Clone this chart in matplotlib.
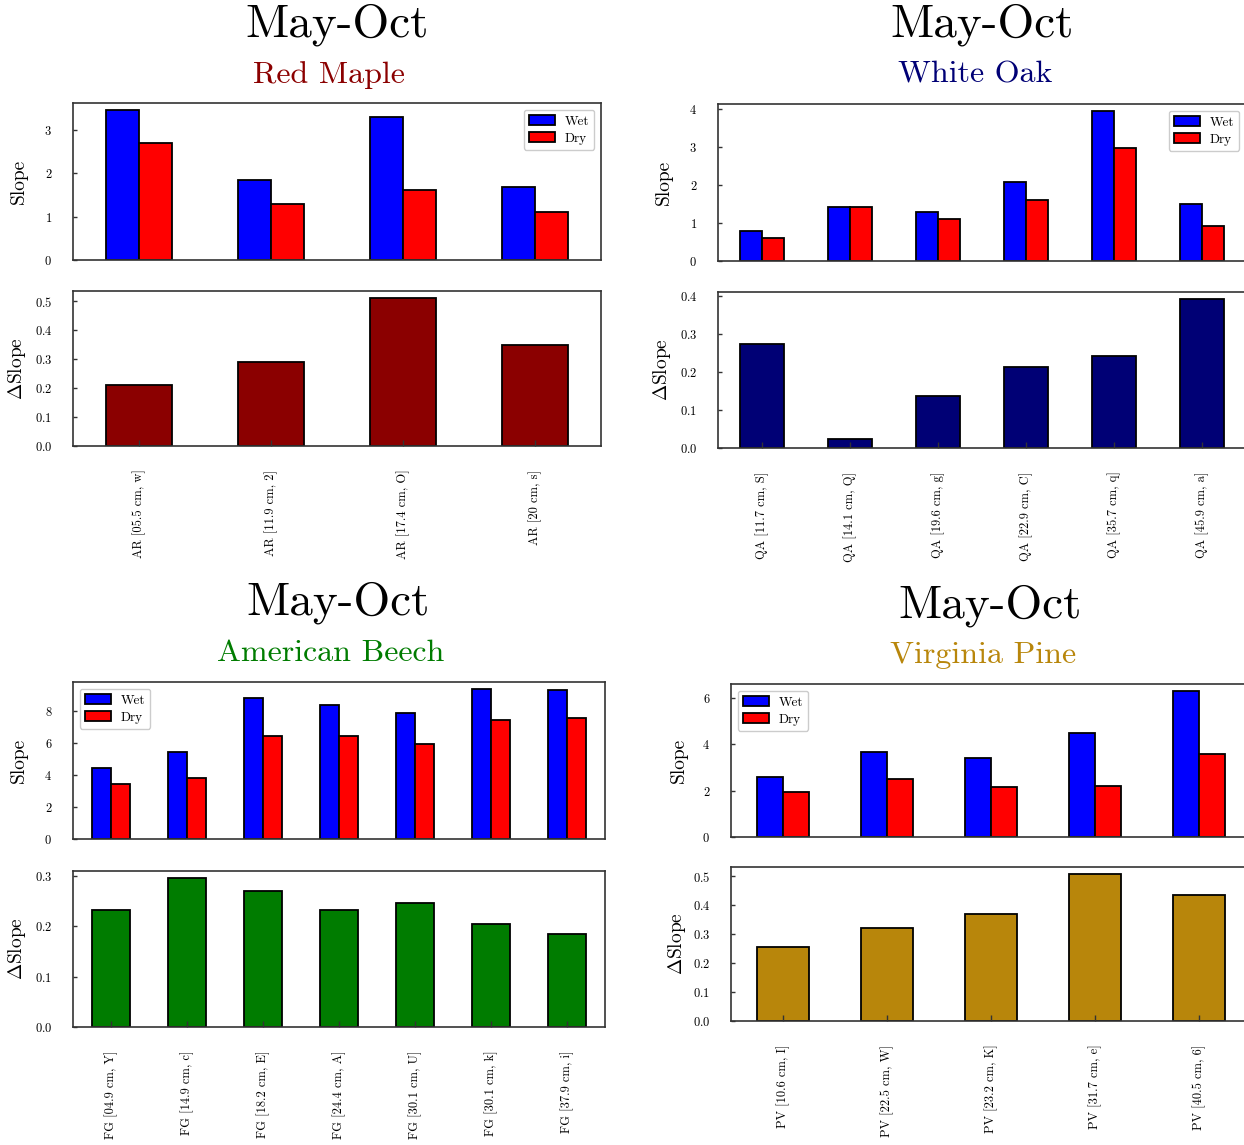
import matplotlib
matplotlib.use("Agg")
import matplotlib.pyplot as plt
import numpy as np
from matplotlib.ticker import MultipleLocator

plt.rcParams['font.family'] = 'cmr10'
plt.rcParams['mathtext.fontset'] = 'cm'
plt.rcParams['axes.formatter.use_mathtext'] = True

# Red Maple (AR)
maple_labels = ['AR [05.5 cm, w]', 'AR [11.9 cm, 2]', 'AR [17.4 cm, O]', 'AR [20 cm, s]']
maple_wet = [3.44, 1.85, 3.30, 1.68]
maple_dry = [2.70, 1.29, 1.62, 1.10]
maple_delta = [0.21, 0.29, 0.51, 0.35]

# White Oak (QA)
oak_labels = ['QA [11.7 cm, S]', 'QA [14.1 cm, Q]', 'QA [19.6 cm, g]',
              'QA [22.9 cm, C]', 'QA [35.7 cm, q]', 'QA [45.9 cm, a]']
oak_wet = [0.80, 1.43, 1.28, 2.07, 3.94, 1.49]
oak_dry = [0.60, 1.41, 1.11, 1.62, 2.99, 0.91]
oak_delta = [0.273, 0.023, 0.137, 0.213, 0.242, 0.391]

# American Beech (FG)
beech_labels = ['FG [04.9 cm, Y]', 'FG [14.9 cm, c]', 'FG [18.2 cm, E]', 'FG [24.4 cm, A]',
                'FG [30.1 cm, U]', 'FG [30.1 cm, k]', 'FG [37.9 cm, i]']
beech_wet = [4.47, 5.41, 8.79, 8.37, 7.85, 9.35, 9.31]
beech_dry = [3.42, 3.80, 6.41, 6.43, 5.93, 7.43, 7.58]
beech_delta = [0.232, 0.295, 0.270, 0.232, 0.247, 0.205, 0.185]

# Virginia Pine (PV)
pine_labels = ['PV [10.6 cm, I]', 'PV [22.5 cm, W]', 'PV [23.2 cm, K]',
               'PV [31.7 cm, e]', 'PV [40.5 cm, 6]']
pine_wet = [2.58, 3.67, 3.39, 4.49, 6.27]
pine_dry = [1.92, 2.48, 2.14, 2.21, 3.55]
pine_delta = [0.256, 0.321, 0.369, 0.506, 0.434]

W, H = 1244, 1145
fig = plt.figure(figsize=(W / 100, H / 100), dpi=100)


def px_axes(left, top, right, bottom):
    return fig.add_axes([left / W, 1 - bottom / H, (right - left) / W, (bottom - top) / H])


def style_axes(ax):
    for s in ax.spines.values():
        s.set_color('#333333')
        s.set_linewidth(1.2)
    ax.tick_params(axis='y', direction='in', length=3, width=1, labelsize=9, pad=15,
                   right=False, color='#333333')
    ax.tick_params(axis='x', direction='in', length=4, width=1, labelsize=9,
                   top=False, color='#333333')


def draw_species(top_box, bot_box, labels, wet, dry, delta, color, name,
                 title_xy, name_xy, slope_step, legend_loc, label_off):
    x = np.arange(len(labels))
    width_px = top_box[2] - top_box[0]
    label_x = -label_off / width_px

    # wet / dry slopes side by side
    ax1 = px_axes(*top_box)
    ax1.bar(x - 0.125, wet, 0.25, color='blue', edgecolor='black', linewidth=1.3, label='Wet')
    ax1.bar(x + 0.125, dry, 0.25, color='red', edgecolor='black', linewidth=1.3, label='Dry')
    ax1.set_xlim(-0.5, len(labels) - 0.5)
    ax1.set_ylim(0, max(wet) * 1.05)
    ax1.yaxis.set_major_locator(MultipleLocator(slope_step))
    ax1.set_xticks([])
    ax1.set_ylabel('Slope', fontsize=14)
    ax1.yaxis.set_label_coords(label_x, 0.5)
    style_axes(ax1)
    leg = ax1.legend(loc=legend_loc, fontsize=9.5, handlelength=2.0, handleheight=0.8,
                     handletextpad=0.7, borderpad=0.4, labelspacing=0.35,
                     fancybox=True, framealpha=1)
    leg.get_frame().set_edgecolor('#cccccc')

    # relative change between wet and dry
    ax2 = px_axes(*bot_box)
    ax2.bar(x, delta, 0.5, color=color, edgecolor='black', linewidth=1.3)
    ax2.set_xlim(-0.5, len(labels) - 0.5)
    ax2.set_ylim(0, max(delta) * 1.05)
    ax2.yaxis.set_major_locator(MultipleLocator(0.1))
    ax2.set_xticks(x)
    ax2.set_xticklabels(labels, rotation=90)
    ax2.set_ylabel(r'$\Delta$Slope', fontsize=14)
    ax2.yaxis.set_label_coords(label_x, 0.5)
    style_axes(ax2)
    ax2.tick_params(axis='x', pad=17)

    fig.text(title_xy[0] / W, 1 - title_xy[1] / H, 'May-Oct', fontsize=34,
             ha='center', va='center')
    fig.text(name_xy[0] / W, 1 - name_xy[1] / H, name, fontsize=23, color=color,
             ha='center', va='center')


draw_species((73, 103, 601, 260), (73, 291, 601, 446), maple_labels, maple_wet, maple_dry,
             maple_delta, '#8b0000', 'Red Maple', (337, 25), (329, 75), 1, 'upper right', 45)
draw_species((718, 104, 1246, 261), (718, 292, 1246, 448), oak_labels, oak_wet, oak_dry,
             oak_delta, '#000075', 'White Oak', (982, 25), (975, 75), 1, 'upper right', 45)
draw_species((73, 682, 605, 839), (73, 871, 605, 1027), beech_labels, beech_wet, beech_dry,
             beech_delta, '#007c00', 'American Beech', (338, 603), (331, 653), 2, 'upper left', 45)
draw_species((731, 684, 1251, 837), (731, 867, 1251, 1021), pine_labels, pine_wet, pine_dry,
             pine_delta, '#b8860b', 'Virginia Pine', (990, 606), (983, 655), 2, 'upper left', 43)

fig.savefig('out.png', dpi=100)
